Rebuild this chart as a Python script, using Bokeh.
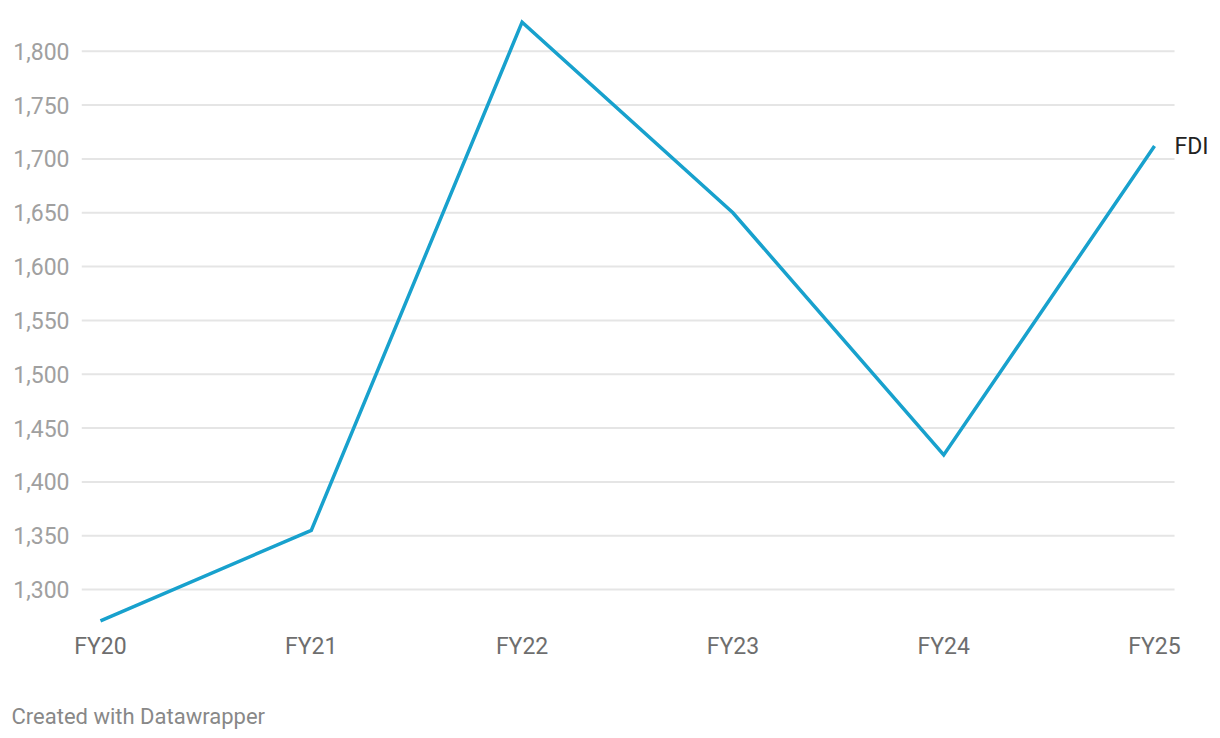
from bokeh.plotting import figure
from bokeh.models import FixedTicker, NumeralTickFormatter, Label, Title, Range1d
from bokeh.embed import file_html
from bokeh.resources import INLINE

categories = ["FY20", "FY21", "FY22", "FY23", "FY24", "FY25"]
fdi_values = [1271, 1355, 1827, 1650, 1425, 1712]
y_ticks = [1300, 1350, 1400, 1450, 1500, 1550, 1600, 1650, 1700, 1750, 1800]
series_name = "FDI"

xs = list(range(len(categories)))
x_lo = -0.09
x_hi_grid = len(categories) - 1 + 0.095

p = figure(width=1212, height=738, output_backend="svg", toolbar_location=None,
           x_range=Range1d(x_lo, len(categories) - 1 + 0.275),
           y_range=Range1d(1262, 1836),
           min_border_left=81, min_border_right=0, min_border_top=12, min_border_bottom=0)
p.outline_line_color = None
p.background_fill_color = "white"
p.border_fill_color = "white"

p.xgrid.grid_line_color = None
p.ygrid.grid_line_color = None
p.segment(x0=[x_lo] * len(y_ticks), x1=[x_hi_grid] * len(y_ticks), y0=y_ticks, y1=y_ticks,
          line_color="#e5e5e5", line_width=2)

p.line(xs, fdi_values, line_color="#18a1cd", line_width=3.5, line_join="miter")

p.yaxis.ticker = FixedTicker(ticks=y_ticks)
p.yaxis.formatter = NumeralTickFormatter(format="0,0")
p.xaxis.ticker = FixedTicker(ticks=xs)
p.xaxis.major_label_overrides = {i: c for i, c in zip(xs, categories)}

for ax in (p.xaxis, p.yaxis):
    ax.axis_line_color = None
    ax.major_tick_line_color = None
    ax.minor_tick_line_color = None
    ax.major_tick_out = 0
    ax.major_tick_in = 0
    ax.minor_tick_out = 0
    ax.minor_tick_in = 0
    ax.major_label_text_font = "Roboto"
    ax.major_label_text_font_size = "23px"

p.yaxis.major_label_text_color = "#a0a0a0"
p.yaxis.major_label_standoff = 12
p.xaxis.major_label_text_color = "#6e6e6e"
p.xaxis.major_label_standoff = 2

p.add_layout(Label(x=xs[-1], y=fdi_values[-1], text=series_name, x_offset=20,
                   text_font="Roboto", text_font_size="23px", text_color="#222222",
                   text_baseline="middle", text_align="left"))

spacer = Title(text=" ", text_font_size="1px", standoff=26)
p.add_layout(spacer, "below")

footer = Title(text="Created with Datawrapper", align="left", text_font="Roboto",
               text_font_size="22px", text_color="#888888", text_font_style="normal",
               offset=-70, standoff=20)
p.add_layout(footer, "below")

open("out.html", "w").write(file_html(p, INLINE))
